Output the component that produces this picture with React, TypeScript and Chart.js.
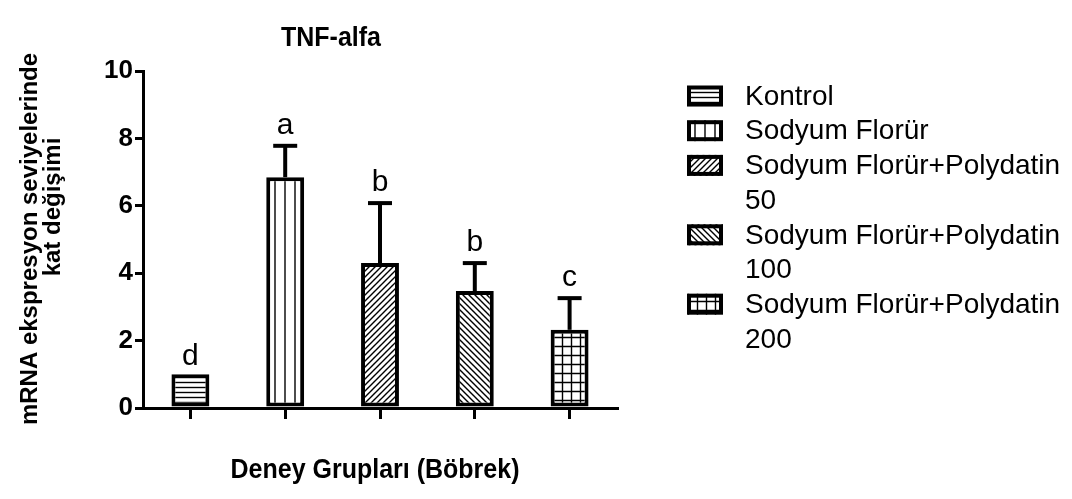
import React, { useEffect, useRef } from 'react';
import { Chart, registerables } from 'chart.js';

Chart.register(...registerables);

const categories = [
  'Kontrol',
  'Sodyum Florür',
  'Sodyum Florür+Polydatin 50',
  'Sodyum Florür+Polydatin 100',
  'Sodyum Florür+Polydatin 200',
];
const means = [1.0, 6.85, 4.3, 3.47, 2.32];
const errors = [0, 0.93, 1.78, 0.83, 0.94];
const letters = ['d', 'a', 'b', 'b', 'c'];
const patternKinds = ['horizontal', 'vertical', 'diagUp', 'diagDown', 'grid'];
const yTicks = [0, 2, 4, 6, 8, 10];
const chartTitle = 'TNF-alfa';
const xTitle = 'Deney Grupları (Böbrek)';
const yTitleLines = ['mRNA ekspresyon seviyelerinde', 'kat değişimi'];

const FONT = "'Liberation Sans', Arial, Helvetica, sans-serif";

function makePattern(kind: string): CanvasPattern | string {
  const size =
    kind === 'vertical' ? 10 : kind === 'grid' ? 9 : kind === 'horizontal' ? 5 : 6;
  const c = document.createElement('canvas');
  c.width = size;
  c.height = size;
  const g = c.getContext('2d');
  if (!g) return '#fff';
  g.fillStyle = '#fff';
  g.fillRect(0, 0, size, size);
  g.strokeStyle = '#000';
  g.lineWidth = 1.4;
  g.beginPath();
  if (kind === 'horizontal' || kind === 'grid') {
    g.moveTo(0, size / 2);
    g.lineTo(size, size / 2);
  }
  if (kind === 'vertical' || kind === 'grid') {
    g.moveTo(size / 2, 0);
    g.lineTo(size / 2, size);
  }
  if (kind === 'diagUp') {
    g.moveTo(-1, size + 1);
    g.lineTo(size + 1, -1);
    g.moveTo(-1, 1);
    g.lineTo(1, -1);
    g.moveTo(size - 1, size + 1);
    g.lineTo(size + 1, size - 1);
  }
  if (kind === 'diagDown') {
    g.moveTo(-1, -1);
    g.lineTo(size + 1, size + 1);
    g.moveTo(size - 1, -1);
    g.lineTo(size + 1, 1);
    g.moveTo(-1, size - 1);
    g.lineTo(1, size + 1);
  }
  g.stroke();
  const p = g.createPattern(c, 'repeat');
  return p || '#fff';
}

function wrapText(ctx: CanvasRenderingContext2D, text: string, maxW: number): string[] {
  const words = text.split(' ');
  const lines: string[] = [];
  let cur = '';
  for (const w of words) {
    const test = cur ? cur + ' ' + w : w;
    if (ctx.measureText(test).width > maxW && cur) {
      lines.push(cur);
      cur = w;
    } else {
      cur = test;
    }
  }
  if (cur) lines.push(cur);
  return lines;
}

function drawStretched(ctx: CanvasRenderingContext2D, text: string, x: number, y: number, sy: number) {
  ctx.save();
  ctx.translate(x, y);
  ctx.scale(1, sy);
  ctx.fillText(text, 0, 0);
  ctx.restore();
}

export default function App() {
  const ref = useRef<HTMLCanvasElement | null>(null);

  useEffect(() => {
    document.body.style.margin = '0';
    const canvas = ref.current;
    if (!canvas) return;
    const patterns = patternKinds.map((k) => makePattern(k));

    const overlay = {
      id: 'overlay',
      afterDatasetsDraw(chart: any) {
        const ctx: CanvasRenderingContext2D = chart.ctx;
        const yScale = chart.scales.y;
        const meta = chart.getDatasetMeta(0);
        ctx.save();
        meta.data.forEach((bar: any, i: number) => {
          const top = means[i] + errors[i];
          const yTop = yScale.getPixelForValue(top);
          if (errors[i] > 0) {
            ctx.strokeStyle = '#000';
            ctx.lineWidth = 4;
            ctx.lineCap = 'butt';
            ctx.beginPath();
            ctx.moveTo(bar.x, bar.y);
            ctx.lineTo(bar.x, yTop);
            ctx.stroke();
            ctx.beginPath();
            ctx.moveTo(bar.x - 12, yTop);
            ctx.lineTo(bar.x + 12, yTop);
            ctx.stroke();
          }
          ctx.fillStyle = '#000';
          ctx.font = `30px ${FONT}`;
          ctx.textAlign = 'center';
          ctx.textBaseline = 'alphabetic';
          ctx.fillText(letters[i], bar.x, yTop - (errors[i] > 0 ? 12 : 9));
        });
        ctx.restore();
      },
      afterDraw(chart: any) {
        const ctx: CanvasRenderingContext2D = chart.ctx;
        ctx.save();
        ctx.fillStyle = '#000';
        // title
        ctx.font = `bold 25px ${FONT}`;
        ctx.textAlign = 'center';
        ctx.textBaseline = 'middle';
        drawStretched(ctx, chartTitle, 331, 38, 1.12);
        // x title
        ctx.font = `bold 25px ${FONT}`;
        drawStretched(ctx, xTitle, 375, 470, 1.12);
        // y title
        ctx.font = `bold 24px ${FONT}`;
        const yCenters = [239, 207];
        const xCenters = [30, 53];
        yTitleLines.forEach((line, i) => {
          ctx.save();
          ctx.translate(xCenters[i], yCenters[i]);
          ctx.rotate(-Math.PI / 2);
          ctx.fillText(line, 0, 0);
          ctx.restore();
        });
        // legend
        ctx.font = `28px ${FONT}`;
        ctx.textAlign = 'left';
        ctx.textBaseline = 'middle';
        const pitch = 34.7;
        let y = 96;
        categories.forEach((cat, i) => {
          const lines = wrapText(ctx, cat, 330);
          const sx = 687, sw = 36, sh = 21;
          ctx.fillStyle = patterns[i] as any;
          ctx.fillRect(sx, y - sh / 2, sw, sh);
          ctx.strokeStyle = '#000';
          ctx.lineWidth = 4;
          ctx.strokeRect(sx + 2, y - sh / 2 + 2, sw - 4, sh - 4);
          ctx.fillStyle = '#000';
          lines.forEach((l, j) => {
            ctx.fillText(l, 745, y + 1 + j * pitch);
          });
          y += lines.length * pitch;
        });
        ctx.restore();
      },
    };

    const chart = new Chart(canvas, {
      type: 'bar',
      data: {
        labels: categories,
        datasets: [
          {
            data: means,
            backgroundColor: patterns as any,
            borderColor: '#000',
            borderWidth: 4,
            borderSkipped: false,
            barPercentage: 0.4,
            categoryPercentage: 1,
          },
        ],
      },
      options: {
        responsive: false,
        animation: false,
        events: [],
        layout: { padding: { left: 103, right: 455, top: 71, bottom: 80 } },
        plugins: {
          legend: { display: false },
          title: { display: false },
          tooltip: { enabled: false },
        },
        scales: {
          x: {
            offset: true,
            grid: {
              display: true,
              drawOnChartArea: false,
              drawTicks: true,
              tickLength: 11,
              offset: false,
              color: '#000',
              lineWidth: 3,
            },
            border: { display: true, color: '#000', width: 3 },
            ticks: { display: false },
            afterFit: (scale: any) => {
              scale.height = 11;
            },
          },
          y: {
            min: 0,
            max: 10,
            grid: {
              display: true,
              drawOnChartArea: false,
              drawTicks: true,
              tickLength: 8,
              color: '#000',
              lineWidth: 3,
            },
            border: { display: true, color: '#000', width: 3 },
            ticks: {
              color: '#000',
              padding: 2,
              font: { family: FONT, size: 26, weight: 'bold' },
            },
            afterBuildTicks: (scale: any) => {
              scale.ticks = yTicks.map((v) => ({ value: v }));
            },
            afterFit: (scale: any) => {
              scale.width = 40;
            },
          },
        },
      },
      plugins: [overlay],
    });
    return () => chart.destroy();
  }, []);

  return (
    <div style={{ width: 1072, height: 499, background: '#fff' }}>
      <canvas ref={ref} width={1072} height={499} style={{ display: 'block' }} />
    </div>
  );
}
